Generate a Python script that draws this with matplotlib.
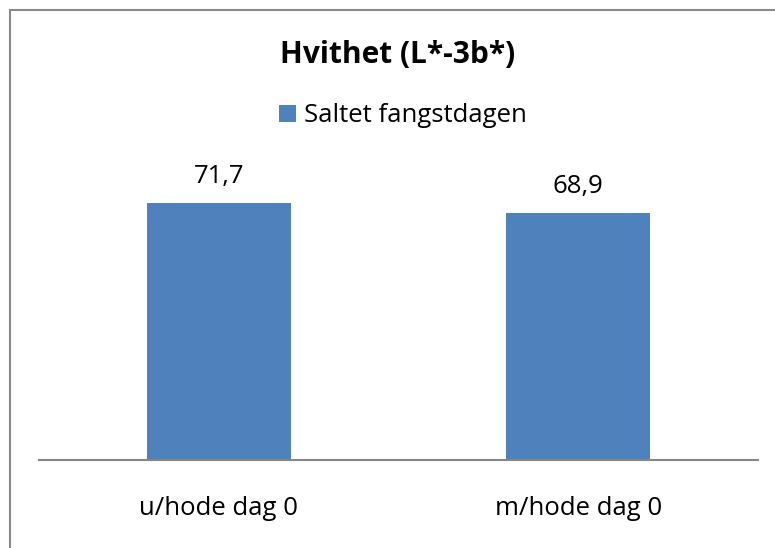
import matplotlib
matplotlib.use("Agg")
import matplotlib.pyplot as plt
from matplotlib.lines import Line2D

categories = ["u/hode dag 0", "m/hode dag 0"]
values = [71.7, 68.9]
value_labels = ["71,7", "68,9"]
series_name = "Saltet fangstdagen"
title = "Hvithet (L*-3b*)"

W, H = 775, 548
fig = plt.figure(figsize=(W / 100, H / 100), dpi=100)
plt.rcParams['font.family'] = ['Open Sans', 'DejaVu Sans']
PT = 72 / 100  # points per pixel

def fx(px):
    return px / W

def fy(py):
    return 1 - py / H

bar_color = "#4f81bd"
ax = fig.add_axes([fx(39), fy(460), fx(758) - fx(39), fy(173.3) - fy(460)])
x = list(range(len(categories)))
bars = ax.bar(x, values, width=0.4, color=bar_color)
ax.set_xlim(-0.5, 1.5)
ax.set_ylim(0, 80)
for s in ["top", "right", "left"]:
    ax.spines[s].set_visible(False)
ax.spines["bottom"].set_color("#868686")
ax.spines["bottom"].set_linewidth(1.5)
ax.set_yticks([])
ax.set_xticks(x)
ax.set_xticklabels([])
ax.tick_params(axis="x", length=0)
for xi, cat in zip(x, categories):
    ax.annotate(cat, (xi, 0), xycoords=("data", "axes fraction"),
                xytext=(0, -55 * PT), textcoords="offset points",
                ha="center", va="baseline", fontsize=18.5)
for xi, v, lab in zip(x, values, value_labels):
    ax.annotate(lab, (xi, v), xytext=(0, 20 * PT), textcoords="offset points",
                ha="center", va="baseline", fontsize=18.5)

fig.text(fx(398), fy(63), title, ha="center", va="baseline", fontsize=21.5, fontweight="bold")
leg = fig.legend([bars[0]], [series_name], loc="center", bbox_to_anchor=(fx(403), fy(116)),
                 frameon=False, fontsize=18.5, handlelength=0.65, handleheight=0.65,
                 handletextpad=0.3, borderpad=0)

for xs, ys in [([fx(10), fx(10)], [-0.1, fy(10)]), ([fx(10), 1.2], [fy(10), fy(10)])]:
    fig.add_artist(Line2D(xs, ys, transform=fig.transFigure, color="#898989",
                          linewidth=1.5, solid_capstyle="projecting"))

fig.savefig("out.png", dpi=100)
